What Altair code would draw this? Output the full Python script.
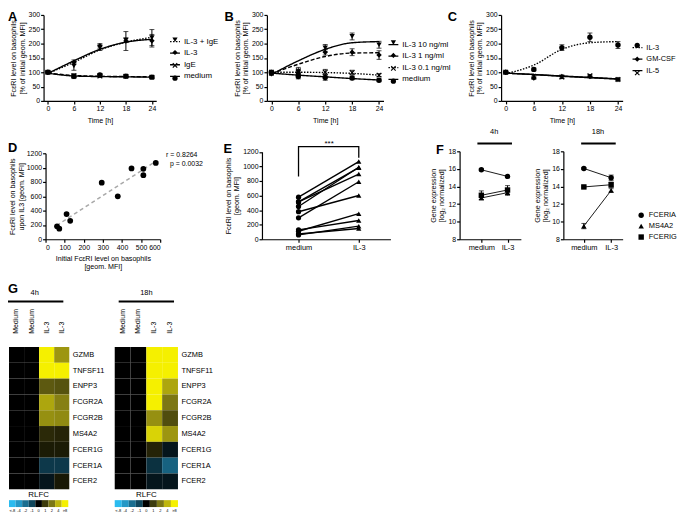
import altair as alt
import pandas as pd

W, H = 677, 507
FONT = "Liberation Sans"
ONE = pd.DataFrame({"k": [0]})

# ---------------- shared ----------------
time_h = [0, 6, 12, 18, 24]
SHAPE_X = "M-1,-0.7L-0.7,-1L0,-0.3L0.7,-1L1,-0.7L0.3,0L1,0.7L0.7,1L0,0.3L-0.7,1L-1,0.7L-0.3,0Z"
SOLID, DASHED, DOTTED = [1, 0], [4, 2], [1.5, 1.5]
FC_TITLE = ["FcεRI level on basophils", "[% of initial geom. MFI]"]

# ---------------- Panel A ----------------
a_series = ["IL-3 + IgE", "IL-3", "IgE", "medium"]
a_m_il3ige = [100, 122, 186, 212, 221]
a_m_il3 = [100, 135, 192, 209, 210]
a_m_ige = [100, 88, 87, 86, 83]
a_m_med = [100, 86, 91, 86, 83]
a_e_il3ige = [3, 15, 10, 8, 28]
a_e_il3 = [3, 8, 8, 33, 22]
a_e_ige = [3, 5, 5, 4, 4]
a_e_med = [3, 8, 5, 4, 4]
a_f_il3ige = [96, 135, 178, 205, 222]
a_f_il3 = [96, 140, 180, 205, 215]
a_f_ige = [97, 89, 86, 85, 84]
a_f_med = [97, 87, 85, 84, 83]

# ---------------- Panel B ----------------
b_series = ["IL-3 10 ng/ml", "IL-3   1 ng/ml", "IL-3 0.1 ng/ml", "medium"]
b_m_10 = [95, 100, 185, 225, 196]
b_m_1 = [95, 96, 170, 170, 160]
b_m_01 = [100, 105, 100, 99, 90]
b_m_med = [100, 85, 82, 80, 72]
b_e_10 = [5, 10, 12, 12, 12]
b_e_1 = [5, 8, 10, 12, 15]
b_e_01 = [3, 12, 10, 8, 5]
b_e_med = [3, 8, 10, 6, 5]
b_f_10 = [92, 140, 180, 203, 207]
b_f_1 = [95, 128, 155, 167, 168]
b_f_01 = [100, 100, 99, 96, 90]
b_f_med = [97, 90, 84, 78, 73]

# ---------------- Panel C ----------------
c_series = ["IL-3", "GM-CSF", "IL-5"]
c_m_il3 = [100, 110, 186, 222, 195]
c_m_gm = [100, 80, 85, 85, 75]
c_m_il5 = [100, 86, 83, 88, 75]
c_e_il3 = [3, 5, 10, 15, 12]
c_e_gm = [3, 5, 5, 4, 4]
c_e_il5 = [3, 5, 5, 4, 4]
c_f_il3 = [95, 125, 180, 203, 207]
c_f_gm = [97, 92, 86, 81, 76]
c_f_il5 = [97, 92, 87, 82, 77]

# ---------------- Panels D / E ----------------
d_initial = [60, 72, 110, 129, 294, 378, 450, 512, 512, 577]
d_il3 = [180, 148, 351, 258, 789, 600, 988, 983, 895, 1066]
e_conditions = ["medium", "IL-3"]
e_bracket_vals = [860, 1270, 1270, 1117]

# ---------------- Panel F ----------------
f_genes = ["FCERIA", "MS4A2", "FCERIG"]
f4_fceria = [15.9, 15.15]
f4_ms4a2 = [12.7, 13.3]
f4_fcerig = [13.0, 13.6]
f4_err_fceria = [0.1, 0.1]
f4_err_ms4a2 = [0.2, 0.3]
f4_err_fcerig = [0.5, 0.5]
f18_fceria = [16.05, 15.0]
f18_ms4a2 = [9.5, 13.55]
f18_fcerig = [13.95, 14.2]
f18_err_fceria = [0.1, 0.3]
f18_err_ms4a2 = [0.3, 0.2]
f18_err_fcerig = [0.1, 0.3]

# ---------------- Panel G ----------------
g_genes = ["GZMB", "TNFSF11", "ENPP3", "FCGR2A", "FCGR2B", "MS4A2", "FCER1G", "FCER1A", "FCER2"]
g_cols = ["m1", "m2", "i1", "i2"]
g4_vals = [
    [0, 0, 8, 3], [0, 0, 8, 8], [0, 0, 1.5, 1.4], [0, 0, 3.5, 2.3], [0, 0, 2.8, 2.6],
    [0, 0, 0.7, 0.6], [0, 0, 0.45, 0.45], [0, 0, -0.8, -0.8], [0, 0, -0.3, 0.4],
]
g18_vals = [
    [0, 0, 8, 8], [0, 0, 8, 8], [0, 0, 8, 3.5], [0, 0, 8, 2], [0, 0, 2.8, 1.3],
    [0, 0, 6, 3], [0, 0, 0.6, -0.3], [0, 0, -0.7, -1.7], [0, 0, -0.3, -0.3],
]
rl_labels = ["<-8", "-4", "-2", "-1", "0", "1", "2", "4", ">8"]
rl_stops = [-8, -4, -2, -1, 0, 1, 2, 4, 8]
rl_colors = ["#2bbbef", "#2598c6", "#1a6e90", "#10465c", "#000000",
             "#3d3b0c", "#7c7714", "#bdb50c", "#f5f000"]


def txt(s, x, y, size=7.5, bold=False, align="center", baseline="middle"):
    return alt.Chart(ONE).mark_text(
        text=s, font=FONT, fontSize=size, fontWeight="bold" if bold else "normal",
        align=align, baseline=baseline, color="black"
    ).encode(x=alt.value(x), y=alt.value(y))


def hline(x1, x2, y, w=2.0):
    return alt.Chart(ONE).mark_rule(color="black", strokeWidth=w).encode(
        x=alt.value(x1), x2=alt.value(x2), y=alt.value(y))


def time_panel(series, means, errs, fits, shapes, dashes, xr, yr, lx, ly, lfont):
    pts = pd.DataFrame([{"series": s, "t": t, "m": m, "lo": m - e, "hi": m + e}
                        for s, ms, es in zip(series, means, errs)
                        for t, m, e in zip(time_h, ms, es)])
    fit = pd.DataFrame([{"curve": s, "t": t, "f": f}
                        for s, fs in zip(series, fits) for t, f in zip(time_h, fs)])
    xs = alt.Scale(domain=[-1, 25], range=xr, nice=False, zero=False)
    ys = alt.Scale(domain=[0, 300], range=yr, nice=False, zero=False)
    xax = alt.Axis(orient="bottom", offset=yr[0] - H, values=time_h, title="Time [h]", titlePadding=5)
    yax = alt.Axis(orient="left", offset=-xr[0], values=[0, 50, 100, 150, 200, 250, 300], title=FC_TITLE)

    def X(f):
        return alt.X(f"{f}:Q", scale=xs, axis=xax)

    def Y(f):
        return alt.Y(f"{f}:Q", scale=ys, axis=yax)

    line_leg = alt.Legend(orient="none", legendX=lx, legendY=ly, title=None, symbolType="stroke",
                          symbolSize=100, symbolStrokeWidth=1.3, symbolStrokeColor="black",
                          labelFontSize=lfont, labelOffset=3, rowPadding=1.7, padding=0, labelLimit=300)
    pt_leg = alt.Legend(orient="none", legendX=lx + 2, legendY=ly, title=None,
                        symbolSize=28, symbolFillColor="black", symbolStrokeColor="black",
                        symbolStrokeWidth=0, labelExpr="''", labelFontSize=lfont, rowPadding=5, padding=0)
    lines = alt.Chart(fit).mark_line(interpolate="monotone", color="black", strokeWidth=1.4).encode(
        x=X("t"), y=Y("f"),
        strokeDash=alt.StrokeDash("curve:N", scale=alt.Scale(domain=series, range=dashes), legend=line_leg))
    bars = alt.Chart(pts).mark_rule(color="black", strokeWidth=1).encode(x=X("t"), y=Y("lo"), y2="hi:Q")
    cap_lo = alt.Chart(pts).mark_tick(orient="horizontal", color="black", size=5, thickness=1).encode(
        x=X("t"), y=Y("lo"))
    cap_hi = alt.Chart(pts).mark_tick(orient="horizontal", color="black", size=5, thickness=1).encode(
        x=X("t"), y=Y("hi"))
    dots = alt.Chart(pts).mark_point(filled=True, color="black", size=30, opacity=1).encode(
        x=X("t"), y=Y("m"),
        shape=alt.Shape("series:N", sort=series, scale=alt.Scale(range=shapes), legend=pt_leg))
    return alt.layer(lines, bars, cap_lo, cap_hi, dots)


panel_a = time_panel(a_series, [a_m_il3ige, a_m_il3, a_m_ige, a_m_med],
                     [a_e_il3ige, a_e_il3, a_e_ige, a_e_med],
                     [a_f_il3ige, a_f_il3, a_f_ige, a_f_med],
                     ["triangle-down", "diamond", SHAPE_X, "circle"],
                     [DOTTED, SOLID, DASHED, SOLID],
                     [36, 150], [91, 4], 163, 25, 8)
panel_b = time_panel(b_series, [b_m_10, b_m_1, b_m_01, b_m_med],
                     [b_e_10, b_e_1, b_e_01, b_e_med],
                     [b_f_10, b_f_1, b_f_01, b_f_med],
                     ["triangle-down", "diamond", SHAPE_X, "circle"],
                     [SOLID, DASHED, DOTTED, SOLID],
                     [262, 380], [91, 4], 384, 28, 8)
panel_c = time_panel(c_series, [c_m_il3, c_m_gm, c_m_il5],
                     [c_e_il3, c_e_gm, c_e_il5],
                     [c_f_il3, c_f_gm, c_f_il5],
                     ["circle", "diamond", SHAPE_X],
                     [DOTTED, SOLID, SOLID],
                     [499, 622], [91, 4], 631, 31, 7.5)

# ---------------- D ----------------
d_df = pd.DataFrame({"init": d_initial, "il3": d_il3})
xs_d = alt.Scale(domain=[0, 600], range=[38, 154], nice=False, zero=False)
ys_d = alt.Scale(domain=[0, 1200], range=[231, 144], nice=False, zero=False)
xax_d = alt.Axis(orient="bottom", offset=231 - H, values=[0, 100, 200, 300, 400, 500, 600], format="d",
                 title=["Initial FcεRI level on basophils", "[geom. MFI]"], titlePadding=4)
yax_d = alt.Axis(orient="left", offset=-38, values=[0, 200, 400, 600, 800, 1000, 1200], format="d",
                 title=["FcεRI level on basophils", "upon IL3 [geom. MFI]"], titlePadding=1)
d_reg = alt.Chart(d_df).transform_regression("init", "il3", extent=[58, 580]).mark_line(
    color="#a8a8a8", strokeDash=[4, 3], strokeWidth=1.5).encode(
    x=alt.X("init:Q", scale=xs_d, axis=xax_d), y=alt.Y("il3:Q", scale=ys_d, axis=yax_d))
d_pts = alt.Chart(d_df).mark_circle(color="black", size=34, opacity=1).encode(
    x=alt.X("init:Q", scale=xs_d, axis=xax_d), y=alt.Y("il3:Q", scale=ys_d, axis=yax_d))
panel_d = alt.layer(d_reg, d_pts)

# ---------------- E ----------------
e_rows = []
for i, (m, v) in enumerate(zip(d_initial, d_il3)):
    e_rows.append({"id": i, "cond": "medium", "val": m})
    e_rows.append({"id": i, "cond": "IL-3", "val": v})
e_df = pd.DataFrame(e_rows)
br_df = pd.DataFrame({"cond": ["medium", "medium", "IL-3", "IL-3"], "val": e_bracket_vals, "o": [0, 1, 2, 3]})
xs_e = alt.Scale(type="point", domain=e_conditions, range=[257, 387], padding=0.566, align=0.536)
ys_e = alt.Scale(domain=[0, 1200], range=[231, 142.5], nice=False, zero=False)
xax_e = alt.Axis(orient="bottom", offset=231 - H, title=None, labelAngle=0, labelFontSize=7.5)
yax_e = alt.Axis(orient="left", offset=-257, values=[0, 200, 400, 600, 800, 1000, 1200], format="d",
                 title=["FcεRI level on basophils", "[geom. MFI]"])
EX = alt.X("cond:N", scale=xs_e, axis=xax_e)
EY = alt.Y("val:Q", scale=ys_e, axis=yax_e)
e_lines = alt.Chart(e_df).mark_line(color="black", strokeWidth=1.4).encode(x=EX, y=EY, detail="id:N")
e_pts = alt.Chart(e_df).mark_point(filled=True, color="black", size=28, opacity=1).encode(
    x=EX, y=EY, shape=alt.Shape("cond:N", scale=alt.Scale(domain=e_conditions, range=["circle", "triangle-up"]),
                                legend=None))
e_br = alt.Chart(br_df).mark_line(color="black", strokeWidth=1.3).encode(x=EX, y=EY, order="o:Q")
panel_e = alt.layer(e_lines, e_pts, e_br)


# ---------------- F ----------------
def f_panel(means, errs, xr, pad, align, legend):
    rows = [{"gene": g, "cond": c, "m": m, "lo": m - e, "hi": m + e}
            for g, ms, es in zip(f_genes, means, errs) for c, m, e in zip(e_conditions, ms, es)]
    df = pd.DataFrame(rows)
    xs = alt.Scale(type="point", domain=e_conditions, range=xr, padding=pad, align=align)
    ys = alt.Scale(domain=[8, 18], range=[231, 142], nice=False, zero=False)
    xax = alt.Axis(orient="bottom", offset=231 - H, title=None, labelAngle=0, labelFontSize=7.5)
    yax = alt.Axis(orient="left", offset=-xr[0], values=[8, 10, 12, 14, 16, 18],
                   title=["Gene expression", "[log₂ normalized]"])
    FX = alt.X("cond:N", scale=xs, axis=xax)

    def FY(f):
        return alt.Y(f"{f}:Q", scale=ys, axis=yax)

    leg = None
    if legend:
        leg = alt.Legend(orient="none", legendX=637, legendY=203, title=None, symbolSize=30,
                         symbolFillColor="black", symbolStrokeColor="black", symbolStrokeWidth=0,
                         labelFontSize=7.5, rowPadding=2, padding=0, labelOffset=4)
    ln = alt.Chart(df).mark_line(color="black", strokeWidth=0.9).encode(x=FX, y=FY("m"), detail="gene:N")
    bars = alt.Chart(df).mark_rule(color="black", strokeWidth=1).encode(x=FX, y=FY("lo"), y2="hi:Q")
    clo = alt.Chart(df).mark_tick(orient="horizontal", color="black", size=5, thickness=1).encode(x=FX, y=FY("lo"))
    chi = alt.Chart(df).mark_tick(orient="horizontal", color="black", size=5, thickness=1).encode(x=FX, y=FY("hi"))
    pts = alt.Chart(df).mark_point(filled=True, color="black", size=30, opacity=1).encode(
        x=FX, y=FY("m"),
        shape=alt.Shape("gene:N", scale=alt.Scale(domain=f_genes, range=["circle", "triangle-up", "square"]),
                        legend=leg))
    return alt.layer(ln, bars, clo, chi, pts)


panel_f1 = f_panel([f4_fceria, f4_ms4a2, f4_fcerig], [f4_err_fceria, f4_err_ms4a2, f4_err_fcerig],
                   [457, 519], 0.67, 0.62, False)
panel_f2 = f_panel([f18_fceria, f18_ms4a2, f18_fcerig], [f18_err_fceria, f18_err_ms4a2, f18_err_fcerig],
                   [562, 622], 0.587, 0.64, True)

# ---------------- G ----------------
CSCALE = alt.Scale(domain=rl_stops, range=rl_colors, type="linear", interpolate="rgb")


def heat(vals, xr):
    df = pd.DataFrame([{"gene": g, "col": c, "v": v}
                       for g, row in zip(g_genes, vals) for c, v in zip(g_cols, row)])
    return alt.Chart(df).mark_rect(stroke=None).encode(
        x=alt.X("col:N", scale=alt.Scale(type="band", domain=g_cols, range=xr, paddingInner=0, paddingOuter=0),
                axis=alt.Axis(orient="top", offset=-340, labelAngle=-90, domain=False, ticks=False, tickSize=0,
                              labelPadding=14, labelFontSize=7, title=None,
                              labelExpr="indexof(datum.value, 'm') == 0 ? 'Medium' : 'IL-3'")),
        y=alt.Y("gene:N", scale=alt.Scale(type="band", domain=g_genes, range=[340, 484],
                                          paddingInner=0, paddingOuter=0),
                axis=alt.Axis(orient="right", offset=xr[1] - W, domain=False, ticks=False, tickSize=0,
                              labelPadding=3, labelFontSize=7.5, title=None)),
        color=alt.Color("v:Q", scale=CSCALE, legend=None))


def cbar(xr):
    df = pd.DataFrame({"lab": rl_labels, "v": rl_stops, "r": ["RLFC"] * len(rl_labels)})
    return alt.Chart(df).mark_rect(stroke=None).encode(
        x=alt.X("lab:N", scale=alt.Scale(type="band", domain=rl_labels, range=xr, paddingInner=0, paddingOuter=0),
                axis=alt.Axis(orient="bottom", offset=502 - H, domain=False, ticks=False, tickSize=0,
                              labelPadding=1, labelFontSize=4, labelAngle=0, title=None)),
        y=alt.Y("r:N", scale=alt.Scale(type="band", domain=["RLFC"], range=[495, 502],
                                       paddingInner=0, paddingOuter=0), axis=None),
        color=alt.Color("v:Q", scale=CSCALE, legend=None))


annot = [
    txt("A", 0, 0, 13, True, "left", "top"),
    txt("B", 219, 0, 13, True, "left", "top"),
    txt("C", 445, 0, 13, True, "left", "top"),
    txt("D", 0, 133, 13, True, "left", "top"),
    txt("E", 218, 134, 13, True, "left", "top"),
    txt("F", 433, 135, 13, True, "left", "top"),
    txt("G", 0, 275, 13, True, "left", "top"),
    txt("r  = 0.8264", 160, 146, 7, False, "left"),
    txt("p = 0.0032", 164, 155, 7, False, "left"),
    txt("***", 325, 135, 8),
    txt("4h", 492, 122, 7.5), hline(475, 510, 134),
    txt("18h", 597, 122, 7.5), hline(580, 615, 134),
    txt("4h", 27, 285, 7.5), hline(0, 56, 294),
    txt("18h", 140, 285, 7.5), hline(112, 168, 294),
    txt("RLFC", 31, 490, 8), txt("RLFC", 140, 490, 8),
]

chart = alt.layer(
    panel_a, panel_b, panel_c, panel_d, panel_e, panel_f1, panel_f2,
    heat(g4_vals, [1, 62]), heat(g18_vals, [108, 172]),
    cbar([1, 61]), cbar([108, 172]),
    *annot,
).resolve_scale(
    x="independent", y="independent", shape="independent", strokeDash="independent", color="independent"
).resolve_axis(
    x="independent", y="independent"
).resolve_legend(
    shape="independent", strokeDash="independent", color="independent"
).properties(
    width=W, height=H, autosize=alt.AutoSizeParams(type="none", contains="padding"), padding=0
).configure_axis(
    labelFont=FONT, titleFont=FONT, labelFontSize=7, titleFontSize=7.2, titleFontWeight="normal",
    labelColor="black", titleColor="black", domainColor="black", tickColor="black",
    domainWidth=1.2, tickWidth=1.2, tickSize=3, labelPadding=1, titlePadding=2, grid=False,
    titleLineHeight=8.5
).configure_legend(
    labelFont=FONT, labelColor="black"
).configure_view(stroke=None)

chart.save("out.html", embed_options={"renderer": "svg", "actions": False})
